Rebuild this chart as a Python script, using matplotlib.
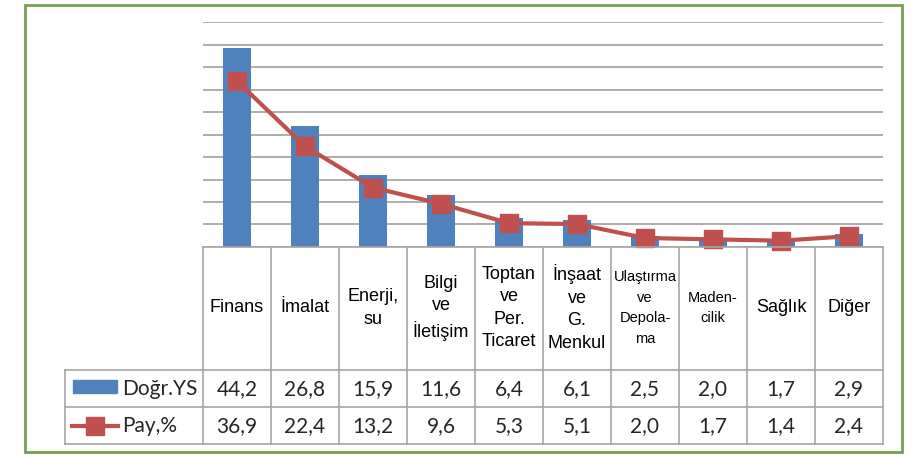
import matplotlib.pyplot as plt
import numpy as np
from matplotlib.patches import Rectangle

categories = ['Finans', 'İmalat', 'Enerji,\nsu', 'Bilgi\nve\nİletişim',
              'Toptan\nve\nPer.\nTicaret', 'İnşaat\nve\nG.\nMenkul',
              'Ulaştırma\nve\nDepola-\nma', 'Maden-\ncilik', 'Sağlık', 'Diğer']
dogr_ys = [44.2, 26.8, 15.9, 11.6, 6.4, 6.1, 2.5, 2.0, 1.7, 2.9]
pay = [36.9, 22.4, 13.2, 9.6, 5.3, 5.1, 2.0, 1.7, 1.4, 2.4]
series_names = ['Doğr.YS', 'Pay,%']

W, H = 912, 455
BLUE = '#4F81BD'
RED = '#C0504D'
GRID = '#A6A6A6'


def box(x0, y0, x1, y1):
    # pixel box -> figure fraction
    return [x0 / W, 1 - y1 / H, (x1 - x0) / W, (y1 - y0) / H]


def fmt(v):
    return ('%.1f' % v).replace('.', ',')


fig = plt.figure(figsize=(W / 100, H / 100), dpi=100)
n = len(categories)
x = np.arange(n)

# chart
ax = fig.add_axes(box(203, 22, 883, 247))
ax.bar(x, dogr_ys, width=0.4, color=BLUE, zorder=2)
ax.plot(x, pay, color=RED, lw=3, marker='s', ms=13.5, zorder=3, clip_on=False)
ax.set_xlim(-0.5, n - 0.5)
ax.set_ylim(0, 50)
ax.set_yticks(np.arange(0, 51, 5))
ax.yaxis.grid(True, color=GRID, lw=1.3)
ax.set_axisbelow(True)
ax.tick_params(left=False, bottom=False, labelleft=False, labelbottom=False)
for s in ax.spines.values():
    s.set_visible(False)

# data table
tab = fig.add_axes(box(65, 247, 883, 444))
left = -0.5 - (203 - 65) / 68
tab.set_xlim(left, n - 0.5)
tab.set_ylim(444, 247)
tab.axis('off')


def px(v):
    return -0.5 + (v - 203) / 68


lc = dict(color=GRID, lw=1.2, clip_on=False)
tab.plot([-0.5, n - 0.5], [247, 247], **lc)
for yy in [370, 407, 444]:
    tab.plot([left, n - 0.5], [yy, yy], **lc)
for k in range(n + 1):
    tab.plot([k - 0.5, k - 0.5], [247, 444], **lc)
tab.plot([left, left], [370, 444], **lc)

small = {'Ulaştırma\nve\nDepola-\nma', 'Maden-\ncilik'}
for i, c in enumerate(categories):
    tab.text(i, 308, c, ha='center', va='center', family='Liberation Sans',
             fontsize=10.5 if c in small else 13, linespacing=1.42 if c not in small else 1.6)
    tab.text(i, 389, fmt(dogr_ys[i]), ha='center', va='center',
             family='Lato', fontsize=15, color='#262626')
    tab.text(i, 426, fmt(pay[i]), ha='center', va='center',
             family='Lato', fontsize=15, color='#262626')

# legend keys
tab.add_patch(Rectangle((px(73), 380), px(117) - px(73), 13, color=BLUE, clip_on=False))
tab.plot([px(72), px(118)], [426, 426], color=RED, lw=3, clip_on=False)
tab.plot([px(95)], [426], marker='s', ms=13, color=RED, clip_on=False)
tab.text(px(122), 389, series_names[0], ha='left', va='center', family='Lato',
         fontsize=15, color='#262626')
tab.text(px(122), 426, series_names[1], ha='left', va='center', family='Lato',
         fontsize=15, color='#262626')

# green frame
fig.patches.append(Rectangle((25 / W, 1 - 452 / H), 877 / W, 447 / H,
                             transform=fig.transFigure, fill=False,
                             edgecolor='#77A04E', lw=2))

fig.savefig('out.png', dpi=100)
